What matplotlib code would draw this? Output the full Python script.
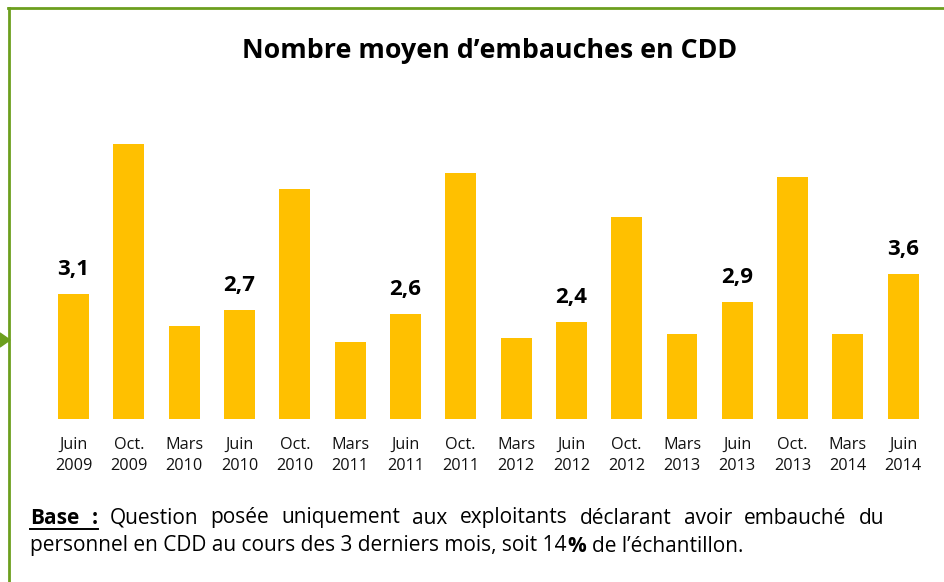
import matplotlib
matplotlib.use('Agg')
import matplotlib.pyplot as plt
from matplotlib.patches import Polygon
from matplotlib.lines import Line2D

plt.rcParams['font.family'] = ['Open Sans', 'DejaVu Sans']

periodes = ['Juin\n2009', 'Oct.\n2009', 'Mars\n2010', 'Juin\n2010', 'Oct.\n2010', 'Mars\n2011',
            'Juin\n2011', 'Oct.\n2011', 'Mars\n2012', 'Juin\n2012', 'Oct.\n2012', 'Mars\n2013',
            'Juin\n2013', 'Oct.\n2013', 'Mars\n2014', 'Juin\n2014']
valeurs = [3.1, 6.8, 2.3, 2.7, 5.7, 1.9, 2.6, 6.1, 2.0, 2.4, 5.0, 2.1, 2.9, 6.0, 2.1, 3.6]
etiquettes = ['3,1', '', '', '2,7', '', '', '2,6', '', '', '2,4', '', '', '2,9', '', '', '3,6']

titre = 'Nombre moyen d’embauches en CDD'
note_l1 = ['Question', 'posée', 'uniquement', 'aux', 'exploitants', 'déclarant', 'avoir', 'embauché', 'du']
note_l2 = ['personnel en CDD au cours des 3 derniers mois, soit 14', '%', ' de l’échantillon.']

vert = '#6C9F1E'
W, H = 945, 582
fig = plt.figure(figsize=(W / 100, H / 100), dpi=100)

# bar chart
ax = fig.add_axes([45.9 / W, 163 / H, 885 / W, 303 / H])
x = list(range(len(valeurs)))
bars = ax.bar(x, valeurs, width=0.56, color='#FFC000')
ax.set_xlim(-0.5, len(valeurs) - 0.5)
ax.set_ylim(0, 7.5)
for b, lab in zip(bars, etiquettes):
    if lab:
        ax.annotate(lab, (b.get_x() + b.get_width() / 2, b.get_height()), xytext=(0, 10),
                    textcoords='offset points', ha='center', va='bottom',
                    fontsize=16, fontweight='bold')
ax.set_xticks(x)
ax.set_xticklabels(periodes, fontsize=11.7, linespacing=1.4, color='#111111')
ax.tick_params(axis='x', length=0, pad=13)
ax.set_yticks([])
for s in ax.spines.values():
    s.set_visible(False)

fig.text(490 / W, 1 - 51 / H, titre, ha='center', va='center', fontsize=19.3, fontweight='bold')

# green frame + arrow
fig.add_artist(Line2D([8 / W, 1], [1 - 8 / H, 1 - 8 / H], color=vert, lw=2))
fig.add_artist(Line2D([9 / W, 9 / W], [0, 1 - 8 / H], color=vert, lw=2))
fig.add_artist(Polygon([(0, 1 - 333 / H), (10 / W, 1 - 340 / H), (0, 1 - 347 / H)],
                       closed=True, color=vert, transform=fig.transFigure))

# footnote, first line justified
r = fig.canvas.get_renderer()
fs = 15
y1 = 1 - 518 / H
y2 = 1 - 546 / H
items = [fig.text(0, y1, 'Base', fontsize=fs, fontweight='bold', va='center'),
         fig.text(0, y1, ':', fontsize=fs, fontweight='bold', va='center')]
items += [fig.text(0, y1, w, fontsize=fs, va='center') for w in note_l1]
widths = [t.get_window_extent(r).width for t in items]
gap = (884 - 30 - sum(widths)) / (len(items) - 1)
xp = 30
for t, w in zip(items, widths):
    t.set_x(xp / W)
    xp += w + gap
b0 = items[0].get_window_extent(r)
b1 = items[1].get_window_extent(r)
fig.add_artist(Line2D([b0.x0 / W, b1.x1 / W], [1 - 529 / H, 1 - 529 / H], color='black', lw=1.4))

def larg(s, **kw):
    t = fig.text(0, 0, s, fontsize=fs, **kw)
    w = t.get_window_extent(r).width
    t.remove()
    return w

espace = larg('a a') - larg('aa')
xp = 30
for s in note_l2:
    poids = 'bold' if s == '%' else 'normal'
    if s.startswith(' '):
        xp += espace
        s = s[1:]
    t = fig.text(xp / W, y2, s, fontsize=fs, fontweight=poids, va='center')
    xp += t.get_window_extent(r).width + 0.5

fig.savefig('out.png', dpi=100)
